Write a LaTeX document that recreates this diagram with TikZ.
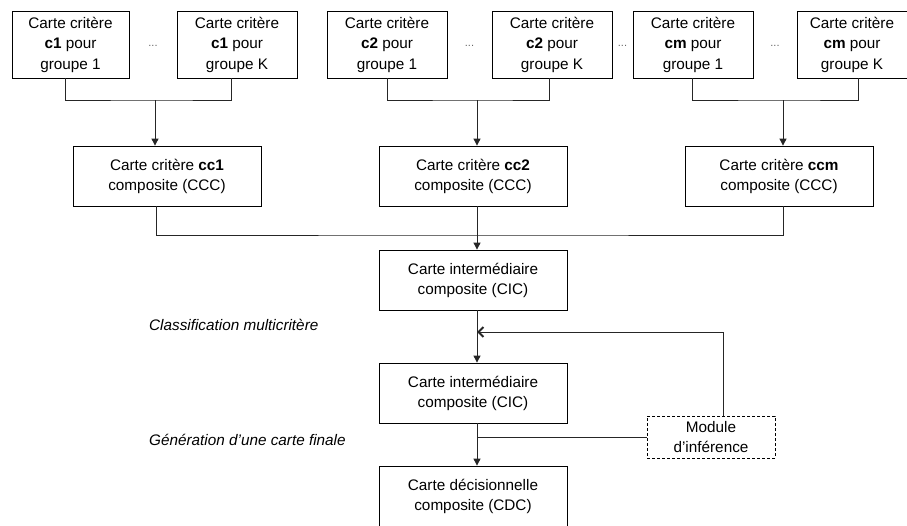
\documentclass[tikz,border=0pt]{standalone}
\usepackage{fontspec}
\setmainfont{Liberation Sans}
\usetikzlibrary{arrows.meta}
\begin{document}
\begin{tikzpicture}[x=1pt,y=-1pt,
  box/.style={draw=black, line width=0.8pt, fill=white, align=center, inner sep=0pt,
    font=\fontsize{15.3}{20.5}\selectfont},
  topbox/.style={box, minimum width=120pt, minimum height=67pt},
  midbox/.style={box, minimum width=188pt, minimum height=60pt, font=\fontsize{15.3}{20}\selectfont},
  modbox/.style={box, dash pattern=on 3pt off 2pt, minimum width=128pt, minimum height=42pt, font=\fontsize{15.3}{20}\selectfont},
  conn/.style={draw=black!85, line width=0.9pt},
  arr/.style={conn, -{Triangle[length=7pt,width=7pt]}},
  barb/.style={conn, -{Straight Barb[length=5pt,width=10pt,line width=2pt]}},
  lab/.style={font=\fontsize{15.3}{18}\selectfont\itshape, inner sep=0pt, anchor=west},
  dotlab/.style={font=\fontsize{11}{11}\selectfont, text=black!60, inner sep=0pt}
]
\fill[white] (0,0) rectangle (907,525);
\useasboundingbox (0,0) rectangle (907,525);

% top boxes
\node[topbox, minimum width=117pt] (b1) at (70.5,44.5) {Carte critère\\\textbf{c1} pour\\groupe 1};
\node[topbox] (b2) at (237,44.5) {Carte critère\\\textbf{c1} pour\\groupe K};
\node[topbox] (b3) at (387,44.5) {Carte critère\\\textbf{c2} pour\\groupe 1};
\node[topbox] (b4) at (552,44.5) {Carte critère\\\textbf{c2} pour\\groupe K};
\node[topbox] (b5) at (693,44.5) {Carte critère\\\textbf{cm} pour\\groupe 1};
\node[topbox, minimum width=110pt] (b6) at (852,44.5) {Carte critère\\\textbf{cm} pour\\groupe K};

\node[dotlab] (d1) at (153,46) {...};
\node[dotlab] (d2) at (469.5,46) {...};
\node[dotlab] (d3) at (622.5,46) {...};
\node[dotlab] (d4) at (775,46) {...};

% composite criterion boxes
\node[midbox] (cc1) at (167,176) {Carte critère \textbf{cc1}\\composite (CCC)};
\node[midbox] (cc2) at (473,176) {Carte critère \textbf{cc2}\\composite (CCC)};
\node[midbox] (ccm) at (779,176) {Carte critère \textbf{ccm}\\composite (CCC)};

\node[midbox] (cic1) at (473,280) {Carte intermédiaire\\composite (CIC)};
\node[midbox] (cic2) at (473,393) {Carte intermédiaire\\composite (CIC)};
\node[midbox] (cdc) at (473,496) {Carte décisionnelle\\composite (CDC)};

\node[modbox] (mod) at (711,437) {Module\\d'inférence};

\node[lab] (l1) at (149,325) {Classification multicritère};
\node[lab] (l2) at (149,440) {Génération d'une carte finale};

% junctions
\coordinate (j1) at (155,100);
\coordinate (j2) at (477,100);
\coordinate (j3) at (783,100);
\coordinate (j4) at (477,235);
\coordinate (fb) at (477,332);

\draw[conn] ([xshift=-5.5pt]b1.south) |- (j1) -| ([xshift=-6pt]b2.south);
\draw[arr] (j1) -- (j1 |- cc1.north);
\draw[conn] (b3.south) |- (j2) -| ([xshift=-3pt]b4.south);
\draw[arr] (j2) -- (j2 |- cc2.north);
\draw[conn] ([xshift=-1pt]b5.south) |- (j3) -| ([xshift=6pt]b6.south);
\draw[arr] (j3) -- (j3 |- ccm.north);

\draw[conn] ([xshift=-11pt]cc1.south) |- (j4) -| ([xshift=4pt]ccm.south);
\draw[arr] ([xshift=4pt]cc2.south) -- ([xshift=4pt]cic1.north);

\draw[arr] ([xshift=4pt]cic1.south) -- ([xshift=4pt]cic2.north);
\draw[barb] ([xshift=12pt]mod.north) |- (fb);

\draw[arr] ([xshift=4pt]cic2.south) -- ([xshift=4pt]cdc.north);
\draw[conn] (mod.west) -- (mod.west -| fb);
\end{tikzpicture}
\end{document}
